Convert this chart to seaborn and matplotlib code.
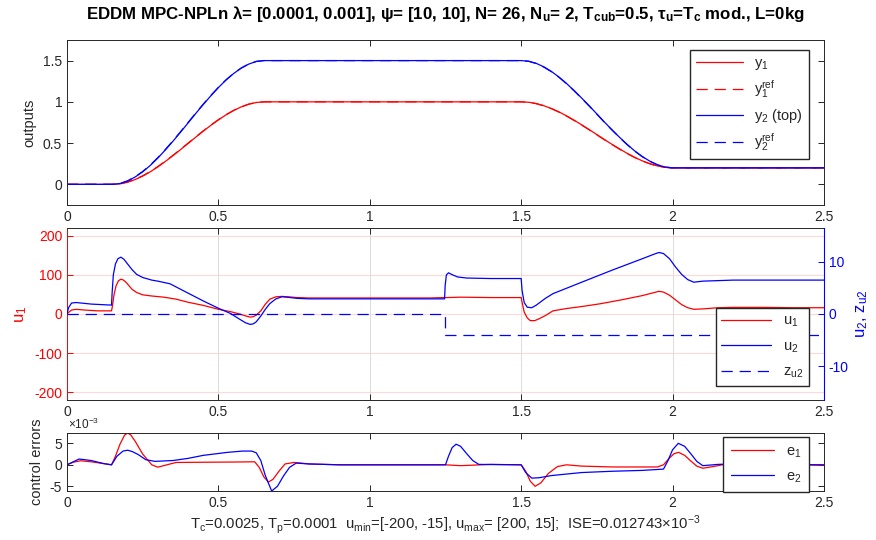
import matplotlib
matplotlib.use("Agg")
import matplotlib.pyplot as plt
import seaborn as sns
import pandas as pd

# ---------------- data ----------------
t_out = [0, 0.15, 0.175, 0.2, 0.225, 0.25, 0.275, 0.3, 0.325, 0.35, 0.375, 0.4, 0.425,
         0.45, 0.475, 0.5, 0.525, 0.55, 0.575, 0.6, 0.625, 0.65,
         1.5, 1.525, 1.55, 1.575, 1.6, 1.625, 1.65, 1.675, 1.7, 1.725, 1.75, 1.775,
         1.8, 1.825, 1.85, 1.875, 1.9, 1.925, 1.95, 1.975, 2.0, 2.5]
y1_ref = [0, 0, 0.007, 0.028, 0.061, 0.104, 0.156, 0.216, 0.282, 0.352, 0.425, 0.5, 0.575,
          0.648, 0.718, 0.784, 0.844, 0.896, 0.939, 0.972, 0.993, 1.0,
          1.0, 0.994, 0.978, 0.951, 0.917, 0.875, 0.827, 0.774, 0.718, 0.66, 0.6, 0.54,
          0.482, 0.426, 0.373, 0.325, 0.283, 0.249, 0.222, 0.206, 0.2, 0.2]
y2_ref = [0, 0, 0.011, 0.042, 0.092, 0.156, 0.234, 0.324, 0.423, 0.528, 0.638, 0.75, 0.863,
          0.972, 1.077, 1.176, 1.266, 1.344, 1.409, 1.458, 1.49, 1.5,
          1.5, 1.491, 1.464, 1.421, 1.365, 1.297, 1.219, 1.133, 1.042, 0.948, 0.85, 0.752,
          0.658, 0.567, 0.481, 0.403, 0.335, 0.279, 0.236, 0.209, 0.2, 0.2]
y1 = [0, 0, 0.006, 0.026, 0.058, 0.1, 0.152, 0.212, 0.278, 0.348, 0.421, 0.496, 0.571,
      0.645, 0.715, 0.781, 0.842, 0.894, 0.938, 0.971, 0.992, 1.0,
      1.0, 0.995, 0.979, 0.953, 0.919, 0.878, 0.830, 0.777, 0.721, 0.663, 0.603, 0.543,
      0.485, 0.429, 0.376, 0.327, 0.285, 0.25, 0.223, 0.207, 0.2, 0.2]
y2 = [0, 0, 0.010, 0.040, 0.089, 0.152, 0.229, 0.319, 0.418, 0.523, 0.633, 0.745, 0.858,
      0.968, 1.073, 1.173, 1.264, 1.342, 1.408, 1.457, 1.489, 1.5,
      1.5, 1.492, 1.466, 1.424, 1.368, 1.300, 1.222, 1.136, 1.045, 0.951, 0.853, 0.755,
      0.661, 0.570, 0.484, 0.405, 0.337, 0.281, 0.237, 0.210, 0.2, 0.2]

t_u1 = [0, 0.005, 0.015, 0.03, 0.06, 0.1, 0.147, 0.150, 0.155, 0.162, 0.170, 0.178, 0.186,
        0.195, 0.205, 0.215, 0.23, 0.25, 0.28, 0.32, 0.36, 0.4, 0.45, 0.5, 0.54, 0.57,
        0.59, 0.605, 0.615, 0.625, 0.64, 0.655, 0.67, 0.69, 0.71, 0.73, 0.76, 0.8,
        0.9, 1.0, 1.1, 1.2, 1.245, 1.255, 1.3, 1.4, 1.5, 1.503, 1.51, 1.52, 1.53, 1.545,
        1.56, 1.58, 1.605, 1.65, 1.7, 1.76, 1.83, 1.9, 1.94, 1.955, 1.97, 1.99, 2.01,
        2.03, 2.05, 2.07, 2.1, 2.15, 2.2, 2.3, 2.4, 2.5]
u1 = [0, 4, 10, 12, 10, 8, 8, 20, 48, 72, 85, 89, 87,
      81, 72, 63, 55, 49, 46, 43, 38, 30, 22, 12, 6, 0,
      -5, -8, -7, -3, 8, 25, 38, 44, 45, 44, 42, 41,
      41, 41, 41, 41, 42, 42, 43, 42, 42, 30, 5, -10, -17, -17,
      -12, -4, 8, 14, 19, 26, 36, 47, 55, 58, 56, 48, 36,
      24, 16, 12, 13, 16, 17, 17, 16, 16]

t_u2 = [0, 0.005, 0.015, 0.03, 0.08, 0.147, 0.149, 0.153, 0.16, 0.168, 0.178, 0.188, 0.2,
        0.215, 0.23, 0.25, 0.28, 0.3, 0.34, 0.4, 0.45, 0.5, 0.54, 0.57, 0.59, 0.605,
        0.615, 0.625, 0.64, 0.655, 0.67, 0.69, 0.71, 0.73, 0.76, 0.8, 1.0, 1.2,
        1.247, 1.249, 1.253, 1.26, 1.27, 1.29, 1.32, 1.4, 1.5, 1.503, 1.51, 1.52, 1.535,
        1.55, 1.58, 1.605, 1.7, 1.8, 1.9, 1.94, 1.955, 1.97, 1.99, 2.01, 2.03, 2.05,
        2.07, 2.1, 2.2, 2.5]
u2 = [0, 1.2, 2.1, 2.2, 1.9, 1.7, 4.0, 7.5, 9.6, 10.6, 10.9, 10.5, 9.6,
      8.5, 7.6, 7.0, 6.5, 6.3, 5.8, 4.0, 2.5, 1.1, 0.1, -1.0, -1.7, -2.0,
      -1.9, -1.5, -0.4, 0.9, 2.0, 2.9, 3.3, 3.2, 3.0, 2.9, 2.9, 2.9,
      2.9, 5.5, 7.5, 7.9, 7.6, 7.1, 6.9, 6.8, 6.8, 4.5, 2.2, 1.3, 1.2,
      1.7, 3.0, 3.9, 6.1, 8.4, 10.6, 11.5, 11.8, 11.6, 10.6, 9.0, 7.6, 6.6,
      6.1, 6.3, 6.5, 6.5]

t_z = [0, 1.25, 1.25, 2.5]
z_u2 = [0, 0, -4, -4]

# control errors in units of 1e-3
t_e1 = [0, 0.02, 0.045, 0.08, 0.12, 0.147, 0.16, 0.175, 0.19, 0.2, 0.21, 0.225, 0.25,
        0.28, 0.3, 0.33, 0.36, 0.45, 0.55, 0.62, 0.635, 0.65, 0.665, 0.68, 0.7, 0.72,
        0.75, 0.8, 0.9, 1.25, 1.3, 1.4, 1.5, 1.515, 1.53, 1.546, 1.565, 1.59, 1.62, 1.65,
        1.7, 1.8, 1.95, 1.97, 1.99, 2.005, 2.02, 2.04, 2.06, 2.08, 2.1, 2.15, 2.2, 2.3,
        2.5]
e1 = [0, 0.6, 0.95, 0.7, 0.3, 0, 2.0, 4.8, 6.9, 7.4, 7.0, 5.5, 2.5,
      0.0, -0.55, 0.0, 0.55, 0.6, 0.65, 0.7, -0.6, -2.8, -4.0, -3.4, -1.5, 0.2,
      0.55, 0.2, 0, 0, -0.2, 0.1, 0, -1.5, -3.8, -5.0, -4.2, -2.0, -0.4, 0.0,
      -0.3, -0.5, -0.5, 0, 1.6, 2.6, 2.9, 2.2, 0.9, -0.3, -0.8, -0.2, 0.5, 0.1,
      -0.1]
t_e2 = [0, 0.04, 0.08, 0.12, 0.147, 0.165, 0.185, 0.2, 0.215, 0.235, 0.26, 0.29, 0.35,
        0.4, 0.45, 0.53, 0.58, 0.61, 0.625, 0.64, 0.655, 0.676, 0.695, 0.715, 0.735,
        0.757, 0.8, 0.9, 1.25, 1.26, 1.272, 1.285, 1.3, 1.32, 1.34, 1.36, 1.5, 1.515,
        1.535, 1.56, 1.6, 1.7, 1.8, 1.9, 1.97, 1.985, 2.0, 2.019, 2.04, 2.06, 2.08, 2.1,
        2.15, 2.2, 2.5]
e2 = [0, 1.35, 1.0, 0.3, 0, 2.0, 3.2, 3.4, 3.1, 2.4, 1.2, 0.8, 1.0,
      1.5, 2.2, 2.9, 3.2, 3.2, 2.8, 1.0, -2.5, -6.1, -5.0, -2.6, -0.6,
      0.4, 0.2, 0, 0, 2.0, 4.0, 4.8, 4.3, 2.6, 1.0, 0.1, 0, -1.8,
      -3.1, -3.0, -2.5, -1.8, -1.5, -1.3, -1.0, 1.0, 3.5, 5.0, 4.3, 2.6, 0.8, -0.2,
      0.1, 0.2, 0]

x_ticks = [0, 0.5, 1, 1.5, 2, 2.5]
x_ticklabels = ["0", "0.5", "1", "1.5", "2", "2.5"]

title = (r"EDDM MPC-NPLn $\lambda$= [0.0001, 0.001], $\psi$= [10, 10], N= 26, "
         r"N$_\mathbf{u}$= 2, T$_\mathbf{cub}$=0.5, $\tau_\mathbf{u}$=T$_\mathbf{c}$ mod., L=0kg")
bottom_text = (r"T$_c$=0.0025, T$_p$=0.0001  u$_{min}$=[-200, -15], u$_{max}$= [200, 15];  "
               r"ISE=0.012743$\times$10$^{-3}$")

# ---------------- style ----------------
sns.set_style("ticks")
plt.rcParams["font.family"] = ["Liberation Sans", "DejaVu Sans"]
plt.rcParams["mathtext.fontset"] = "custom"
plt.rcParams["mathtext.rm"] = "Liberation Sans"
plt.rcParams["mathtext.it"] = "Liberation Sans:italic"
plt.rcParams["mathtext.bf"] = "Liberation Sans:bold"
plt.rcParams["mathtext.default"] = "regular"
plt.rcParams["axes.unicode_minus"] = False
plt.rcParams["xtick.direction"] = "in"
plt.rcParams["ytick.direction"] = "in"

FS = 10
AX_C = "#262626"
RED = "#ff0000"
BLUE = "#0000ff"
DASH = (0, (9, 5.5))

fig = plt.figure(figsize=(8.76, 5.4), dpi=100)
W = 0.8641
L = 67 / 876
ax_top = fig.add_axes([L, 0.6204, W, 0.3056])
ax_mid = fig.add_axes([L, 0.2593, W, 0.3185])
ax_bot = fig.add_axes([L, 0.0907, W, 0.1074])


def style_axes(ax):
    for s in ax.spines.values():
        s.set_color(AX_C)
        s.set_linewidth(0.7)
    ax.tick_params(axis="both", which="both", direction="in", length=4.5, width=0.7,
                   color=AX_C, labelcolor=AX_C, labelsize=FS, top=True, right=True)
    ax.set_xlim(0, 2.5)
    ax.set_xticks(x_ticks)
    ax.set_xticklabels(x_ticklabels)


leg_kw = dict(loc="upper right", fancybox=False, framealpha=1, edgecolor=AX_C,
              fontsize=FS + 0.5, borderaxespad=0)

# ---- top ----
df_top = pd.DataFrame({"t": t_out, "y1": y1, "y1r": y1_ref, "y2": y2, "y2r": y2_ref})
sns.lineplot(data=df_top, x="t", y="y1r", ax=ax_top, color=RED, lw=0.9,
             linestyle=DASH, label=r"y$_1^{ref}$", estimator=None, sort=False)
sns.lineplot(data=df_top, x="t", y="y2r", ax=ax_top, color=BLUE, lw=0.9,
             linestyle=DASH, label=r"y$_2^{ref}$", estimator=None, sort=False)
sns.lineplot(data=df_top, x="t", y="y1", ax=ax_top, color=RED, lw=0.9,
             label=r"y$_1$", estimator=None, sort=False)
sns.lineplot(data=df_top, x="t", y="y2", ax=ax_top, color=BLUE, lw=0.9,
             label=r"y$_2$ (top)", estimator=None, sort=False)
style_axes(ax_top)
ax_top.set_ylim(-0.25, 1.75)
ax_top.set_yticks([0, 0.5, 1, 1.5])
ax_top.set_yticklabels(["0", "0.5", "1", "1.5"])
ax_top.set_xlabel("")
ax_top.set_ylabel("outputs", fontsize=FS + 0.5, color=AX_C, labelpad=5)
ax_top.set_title(title, fontsize=12.2, fontweight="bold", color="black", pad=15)
h, lab = ax_top.get_legend_handles_labels()
order = [2, 0, 3, 1]
ax_top.legend([h[i] for i in order], [lab[i] for i in order],
              bbox_to_anchor=(0.980, 0.939), labelspacing=0.45, handlelength=3.2,
              **leg_kw)

# ---- middle ----
ax_mid2 = ax_mid.twinx()
df_u1 = pd.DataFrame({"t": t_u1, "u1": u1})
df_u2 = pd.DataFrame({"t": t_u2, "u2": u2})
df_z = pd.DataFrame({"t": t_z, "z": z_u2})
ax_mid.grid(True, axis="x", color="#dcdcdc", lw=0.7)
for yv in [-200, -100, 0, 100, 200]:
    ax_mid.axhline(yv, color="#ffd9d9", lw=0.8, zorder=0)
sns.lineplot(data=df_u1, x="t", y="u1", ax=ax_mid, color=RED, lw=0.9,
             estimator=None, sort=False, legend=False)
sns.lineplot(data=df_u2, x="t", y="u2", ax=ax_mid2, color=BLUE, lw=0.9,
             estimator=None, sort=False, legend=False)
sns.lineplot(data=df_z, x="t", y="z", ax=ax_mid2, color=BLUE, lw=0.9,
             linestyle=DASH, estimator=None, sort=False, legend=False)
style_axes(ax_mid)
ax_mid.tick_params(axis="y", colors=RED, labelcolor=RED, right=False)
ax_mid2.tick_params(axis="y", direction="in", length=4.5, width=0.7, colors=BLUE,
                    labelcolor=BLUE, labelsize=FS)
ax_mid.spines["left"].set_color(RED)
ax_mid.spines["right"].set_visible(False)
for s in ax_mid2.spines.values():
    s.set_visible(False)
ax_mid2.spines["right"].set_visible(True)
ax_mid2.spines["right"].set_color(BLUE)
ax_mid2.spines["right"].set_linewidth(0.8)
ax_mid.set_ylim(-220, 220)
ax_mid.set_yticks([-200, -100, 0, 100, 200])
ax_mid2.set_ylim(-16.5, 16.5)
ax_mid2.set_yticks([-10, 0, 10])
ax_mid.set_xlabel("")
ax_mid2.set_xlabel("")
ax_mid.set_ylabel(r"u$_1$", fontsize=FS + 2, color=RED, labelpad=4)
ax_mid2.set_ylabel(r"u$_2$, z$_{u2}$", fontsize=FS + 2, color=BLUE, labelpad=4)
hs = ax_mid.get_lines()[-1:] + ax_mid2.get_lines()[-2:]
ax_mid2.legend(hs, [r"u$_1$", r"u$_2$", r"z$_{u2}$"], bbox_to_anchor=(0.980, 0.535),
               labelspacing=0.7, handlelength=3.4, **leg_kw)

# ---- bottom ----
df_e1 = pd.DataFrame({"t": t_e1, "e1": e1})
df_e2 = pd.DataFrame({"t": t_e2, "e2": e2})
sns.lineplot(data=df_e1, x="t", y="e1", ax=ax_bot, color=RED, lw=0.9,
             label=r"e$_1$", estimator=None, sort=False)
sns.lineplot(data=df_e2, x="t", y="e2", ax=ax_bot, color=BLUE, lw=0.9,
             label=r"e$_2$", estimator=None, sort=False)
style_axes(ax_bot)
ax_bot.set_ylim(-6.1, 7.4)
ax_bot.set_yticks([-5, 0, 5])
ax_bot.set_ylabel("control errors", fontsize=FS + 0.5, color=AX_C, labelpad=4)
ax_bot.text(0.001, 1.01, r"$\times$10$^{-3}$", transform=ax_bot.transAxes, ha="left",
            va="bottom", fontsize=8.5, color=AX_C)
ax_bot.set_xlabel(bottom_text, fontsize=10.7, color=AX_C, labelpad=2)
ax_bot.legend(bbox_to_anchor=(0.980, 0.931), labelspacing=0.65, handlelength=3.0,
              borderpad=0.5, **leg_kw)

fig.savefig("out.png", dpi=100)
